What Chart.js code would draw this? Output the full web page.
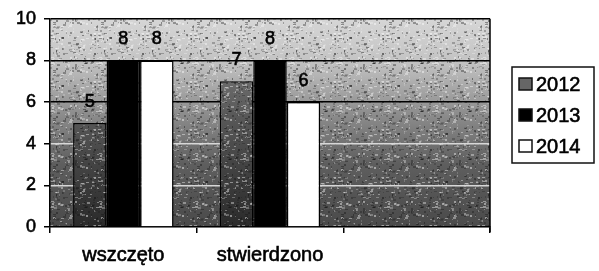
<!DOCTYPE html>
<html>
<head>
<meta charset="utf-8">
<script src="https://cdn.jsdelivr.net/npm/chart.js@4/dist/chart.umd.min.js"></script>
<style>
  html, body { margin: 0; padding: 0; background: #fff; }
</style>
</head>
<body>
<canvas id="myChart" width="599" height="271"></canvas>
<script>
// chart data
const categories = ["wszczęto", "stwierdzono", ""];
const years = ["2012", "2013", "2014"];
const values2012 = [5, 7, null];
const values2013 = [8, 8, null];
const values2014 = [8, 6, null];
const yTicks = [0, 2, 4, 6, 8, 10];

const FONT = "'Liberation Sans', Arial, sans-serif";

// small speckle tile to imitate the printed halftone texture
function speckleTile() {
  const c = document.createElement("canvas");
  c.width = 48; c.height = 48;
  const t = c.getContext("2d");
  let s = 12345;
  const rnd = () => { s = (s * 1103515245 + 12345) % 2147483648; return s / 2147483648; };
  for (let k = 0; k < 260; k++) {
    const v = rnd() < 0.5 ? 255 : 20;
    t.fillStyle = "rgba(" + v + "," + v + "," + v + "," + (0.15 + rnd() * 0.3) + ")";
    t.fillRect(Math.floor(rnd() * 48), Math.floor(rnd() * 48), 1 + Math.floor(rnd() * 3), 1 + Math.floor(rnd() * 2));
  }
  return c;
}
const tile = speckleTile();

// gray gradient behind the bars, light at top, dark at bottom
function plotGradient(ctx, area) {
  const g = ctx.createLinearGradient(0, area.top, 0, area.bottom);
  g.addColorStop(0, "#d6d6d6");
  g.addColorStop(0.2, "#c4c4c4");
  g.addColorStop(0.45, "#8e8e8e");
  g.addColorStop(0.7, "#5e5e5e");
  g.addColorStop(1, "#4a4a4a");
  return g;
}

function bar2012(context) {
  const chart = context.chart;
  const area = chart.chartArea;
  if (!area) return "#555";
  const g = chart.ctx.createLinearGradient(0, area.top, 0, area.bottom);
  g.addColorStop(0, "#8a8a8a");
  g.addColorStop(0.5, "#555");
  g.addColorStop(1, "#2a2a2a");
  return g;
}

const backgroundPlugin = {
  id: "plotBackground",
  beforeDraw(chart) {
    const { ctx, chartArea } = chart;
    const w = chartArea.right - chartArea.left, h = chartArea.bottom - chartArea.top;
    ctx.save();
    ctx.fillStyle = plotGradient(ctx, chartArea);
    ctx.fillRect(chartArea.left, chartArea.top, w, h);
    ctx.fillStyle = ctx.createPattern(tile, "repeat");
    ctx.fillRect(chartArea.left, chartArea.top, w, h);
    ctx.restore();
  },
  afterDatasetsDraw(chart) {
    // speckle over the 2012 bars too
    const ctx = chart.ctx;
    ctx.save();
    ctx.fillStyle = ctx.createPattern(tile, "repeat");
    chart.getDatasetMeta(0).data.forEach((el, j) => {
      if (chart.data.datasets[0].data[j] == null) return;
      const wd = el.width;
      ctx.fillRect(el.x - wd / 2 + 1, el.y + 1, wd - 2, el.base - el.y - 1);
    });
    ctx.restore();
  },
  afterDraw(chart) {
    const { ctx, chartArea } = chart;
    ctx.save();
    ctx.strokeStyle = "#000";
    ctx.lineWidth = 1.5;
    ctx.beginPath();
    ctx.moveTo(chartArea.right, chartArea.top);
    ctx.lineTo(chartArea.right, chartArea.bottom + 5);
    ctx.stroke();
    ctx.restore();
  }
};

const valueLabels = {
  id: "valueLabels",
  afterDatasetsDraw(chart) {
    const ctx = chart.ctx;
    ctx.save();
    ctx.font = "18px " + FONT;
    ctx.fillStyle = "#000";
    ctx.strokeStyle = "#000";
    ctx.lineWidth = 0.6;
    ctx.textAlign = "center";
    ctx.textBaseline = "middle";
    chart.data.datasets.forEach((ds, i) => {
      chart.getDatasetMeta(i).data.forEach((el, j) => {
        if (ds.data[j] == null) return;
        ctx.fillText(String(ds.data[j]), el.x, el.y - 21);
        ctx.strokeText(String(ds.data[j]), el.x, el.y - 21);
      });
    });
    ctx.restore();
  }
};

// boxed legend on the right
const boxLegend = {
  id: "boxLegend",
  afterDraw(chart) {
    const ctx = chart.ctx;
    const x = 512, y = 67, w = 82, h = 96;
    ctx.save();
    ctx.fillStyle = "#fff";
    ctx.fillRect(x, y, w, h);
    ctx.strokeStyle = "#111";
    ctx.lineWidth = 1.5;
    ctx.strokeRect(x, y, w, h);
    ctx.font = "20px " + FONT;
    ctx.textBaseline = "middle";
    chart.data.datasets.forEach((ds, i) => {
      const cy = 84 + i * 31;
      ctx.fillStyle = ds.legendColor;
      ctx.fillRect(519, cy - 6, 13, 12);
      ctx.strokeStyle = "#111";
      ctx.lineWidth = 1.5;
      ctx.strokeRect(519, cy - 6, 13, 12);
      ctx.fillStyle = "#000";
      ctx.strokeStyle = "#000";
      ctx.lineWidth = 0.6;
      ctx.fillText(ds.label, 536, cy + 1);
      ctx.strokeText(ds.label, 536, cy + 1);
    });
    ctx.restore();
  }
};

const ctx = document.getElementById("myChart");

new Chart(ctx, {
  type: "bar",
  data: {
    labels: categories,
    datasets: [
      { label: years[0], data: values2012, backgroundColor: bar2012, legendColor: "#666", borderColor: "#000", borderWidth: 1.5 },
      { label: years[1], data: values2013, backgroundColor: "#000", legendColor: "#000", borderColor: "#000", borderWidth: 1.5 },
      { label: years[2], data: values2014, backgroundColor: "#fff", legendColor: "#fff", borderColor: "#000", borderWidth: 1.5 }
    ]
  },
  plugins: [backgroundPlugin, valueLabels, boxLegend],
  options: {
    responsive: false,
    animation: false,
    layout: { padding: { top: 16, right: 109, left: 0, bottom: 0 } },
    datasets: {
      bar: { categoryPercentage: 0.685, barPercentage: 1 }
    },
    plugins: {
      legend: { display: false },
      tooltip: { enabled: false }
    },
    scales: {
      x: {
        grid: { drawOnChartArea: false, offset: true, color: "#000", tickLength: 6, lineWidth: 1.5 },
        border: { color: "#000", width: 1.5 },
        ticks: { color: "#000", font: { size: 20, family: FONT }, padding: 10, textStrokeColor: "#000", textStrokeWidth: 0.6 },
        afterFit(scale) { scale.height = 44; }
      },
      y: {
        min: 0,
        max: 10,
        afterBuildTicks(scale) { scale.ticks = yTicks.map(v => ({ value: v })); },
        grid: {
          color: c => (c.tick && c.tick.value >= 6 ? "#000" : "#d8d8d8"),
          lineWidth: 1.5,
          tickColor: "#000",
          tickLength: 6
        },
        border: { color: "#000", width: 1.5 },
        ticks: { color: "#000", font: { size: 18, family: FONT }, padding: 8, textStrokeColor: "#000", textStrokeWidth: 0.6 },
        afterFit(scale) { scale.width = 50; }
      }
    }
  }
});
</script>
</body>
</html>
